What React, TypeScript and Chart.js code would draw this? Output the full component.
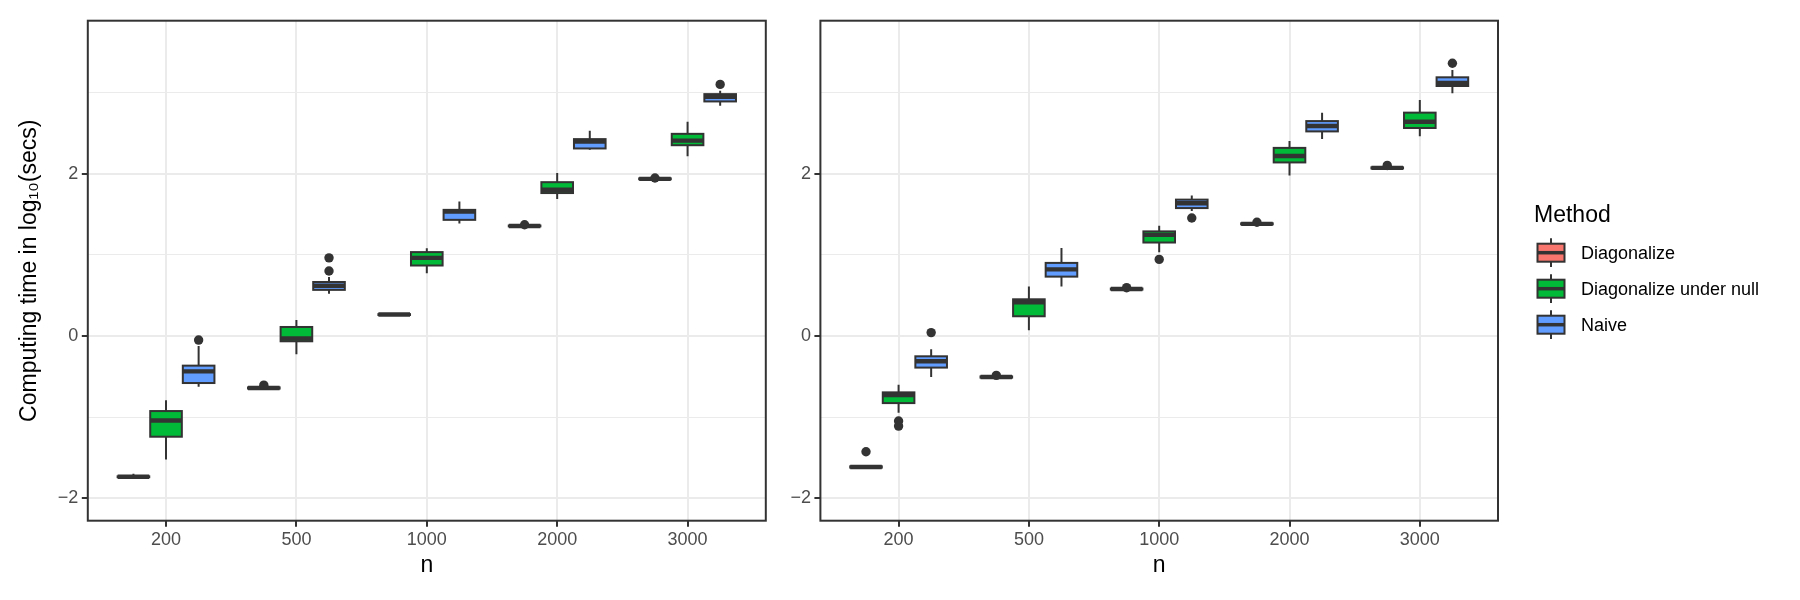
import React, { useEffect, useRef } from 'react';
import { Chart, registerables } from 'chart.js';

Chart.register(...registerables);

const categories = ['200', '500', '1000', '2000', '3000'];
const methods = ['Diagonalize', 'Diagonalize under null', 'Naive'];
const methodColors = ['#F8766D', '#00BA38', '#619CFF'];
const yTitle = 'Computing time in log₁₀(secs)';
const xTitle = 'n';
const legendTitle = 'Method';
const yMin = -2.274;
const yMax = 3.882;

// Each row: [lower whisker, Q1, median, Q3, upper whisker] in log10(secs), one row per n
const leftDiagonalize = [
  [-1.745, -1.738, -1.733, -1.728, -1.696],
  [-0.655, -0.647, -0.64, -0.633, -0.625],
  [0.252, 0.259, 0.264, 0.269, 0.276],
  [1.343, 1.35, 1.355, 1.36, 1.364],
  [1.923, 1.93, 1.935, 1.94, 1.943],
];
const leftDiagonalizeOutliers = [[], [-0.605], [], [1.37], [1.945]];

const leftNullDiag = [
  [-1.52, -1.24, -1.04, -0.924, -0.79],
  [-0.225, -0.065, -0.03, 0.111, 0.197],
  [0.774, 0.868, 0.962, 1.033, 1.08],
  [1.687, 1.76, 1.8, 1.894, 2.006],
  [2.214, 2.349, 2.405, 2.489, 2.637],
];
const leftNullDiagOutliers = [[], [], [], [], []];

const leftNaive = [
  [-0.624, -0.579, -0.435, -0.365, -0.123],
  [0.52, 0.568, 0.618, 0.665, 0.726],
  [1.385, 1.43, 1.532, 1.553, 1.656],
  [2.292, 2.309, 2.395, 2.424, 2.526],
  [2.834, 2.888, 2.945, 2.978, 3.019],
];
const leftNaiveOutliers = [[-0.05], [0.8, 0.962], [], [], [3.098]];

const rightDiagonalize = [
  [-1.63, -1.62, -1.612, -1.605, -1.595],
  [-0.52, -0.512, -0.505, -0.498, -0.49],
  [0.565, 0.572, 0.578, 0.584, 0.59],
  [1.368, 1.375, 1.381, 1.387, 1.394],
  [2.056, 2.063, 2.07, 2.076, 2.083],
];
const rightDiagonalizeOutliers = [[-1.425], [-0.485], [0.595], [1.4], [2.1]];

const rightNullDiag = [
  [-0.944, -0.826, -0.727, -0.694, -0.6],
  [0.07, 0.243, 0.415, 0.452, 0.61],
  [1.03, 1.151, 1.245, 1.288, 1.358],
  [1.976, 2.137, 2.217, 2.316, 2.4],
  [2.458, 2.561, 2.637, 2.75, 2.906],
];
const rightNullDiagOutliers = [[-1.047, -1.109], [], [0.943], [], []];

const rightNaive = [
  [-0.505, -0.389, -0.31, -0.25, -0.164],
  [0.608, 0.731, 0.82, 0.9, 1.085],
  [1.538, 1.575, 1.635, 1.679, 1.731],
  [2.425, 2.519, 2.585, 2.646, 2.75],
  [2.99, 3.078, 3.115, 3.185, 3.274],
];
const rightNaiveOutliers = [[0.042], [], [1.453], [], [3.358]];

const FONT = "'Liberation Sans', Arial, Helvetica, sans-serif";
const INK = '#333333';
const GRID = '#EBEBEB';
const TICK_TEXT = '#4D4D4D';

Chart.defaults.font.family = FONT;

type Row = number[];

// Whiskers, box outlines, medians, outliers and the panel frame drawn on top of the bar fills
function boxPlotPlugin(stats: Row[][], outliers: number[][][]) {
  return {
    id: 'boxPlotParts',
    afterDatasetsDraw(chart: any) {
      const ctx = chart.ctx as CanvasRenderingContext2D;
      const y = chart.scales.y;
      const area = chart.chartArea;
      ctx.save();
      ctx.beginPath();
      ctx.rect(area.left, area.top, area.right - area.left, area.bottom - area.top);
      ctx.clip();
      ctx.strokeStyle = INK;
      ctx.fillStyle = INK;
      ctx.lineCap = 'butt';
      stats.forEach((rows, k) => {
        const meta = chart.getDatasetMeta(k);
        rows.forEach((s, i) => {
          const el = meta.data[i];
          if (!el) return;
          const x = el.x;
          const half = el.width / 2;
          const [lo, q1, med, q3, hi] = s.map((v) => y.getPixelForValue(v));
          ctx.lineWidth = 2;
          ctx.beginPath();
          ctx.moveTo(x, hi);
          ctx.lineTo(x, q3);
          ctx.moveTo(x, q1);
          ctx.lineTo(x, lo);
          ctx.stroke();
          ctx.strokeRect(x - half, q3, half * 2, q1 - q3);
          ctx.lineWidth = 4.4;
          ctx.beginPath();
          ctx.moveTo(x - half, med);
          ctx.lineTo(x + half, med);
          ctx.stroke();
          (outliers[k][i] || []).forEach((v) => {
            ctx.beginPath();
            ctx.arc(x, y.getPixelForValue(v), 4.7, 0, Math.PI * 2);
            ctx.fill();
          });
        });
      });
      ctx.restore();
    },
    afterDraw(chart: any) {
      const ctx = chart.ctx as CanvasRenderingContext2D;
      const a = chart.chartArea;
      ctx.save();
      ctx.strokeStyle = INK;
      ctx.lineWidth = 2;
      ctx.strokeRect(a.left, a.top, a.right - a.left, a.bottom - a.top);
      ctx.restore();
    },
  };
}

// Legend with boxplot keys, placed to the right of the panel
const methodLegendPlugin = {
  id: 'methodLegend',
  afterDraw(chart: any) {
    const ctx = chart.ctx as CanvasRenderingContext2D;
    const base = chart.chartArea.right;
    ctx.save();
    ctx.fillStyle = '#000000';
    ctx.textAlign = 'left';
    ctx.textBaseline = 'alphabetic';
    ctx.font = `23px ${FONT}`;
    ctx.fillText(legendTitle, base + 36, 221.7);
    methods.forEach((m, k) => {
      const cx = base + 53;
      const cy = 252.7 + 36 * k;
      ctx.strokeStyle = INK;
      ctx.lineWidth = 2;
      ctx.beginPath();
      ctx.moveTo(cx, cy - 14.4);
      ctx.lineTo(cx, cy + 14.4);
      ctx.stroke();
      ctx.fillStyle = methodColors[k];
      ctx.fillRect(cx - 13.5, cy - 9, 27, 18);
      ctx.strokeRect(cx - 13.5, cy - 9, 27, 18);
      ctx.lineWidth = 3.5;
      ctx.beginPath();
      ctx.moveTo(cx - 13.5, cy);
      ctx.lineTo(cx + 13.5, cy);
      ctx.stroke();
      ctx.fillStyle = '#000000';
      ctx.font = `18px ${FONT}`;
      ctx.fillText(m, base + 83, cy + 6.6);
    });
    ctx.restore();
  },
};

interface PanelSpec {
  stats: Row[][];
  outliers: number[][][];
  yAxisWidth: number;
  rightPad: number;
  showYTitle: boolean;
  withLegend: boolean;
}

function makeConfig(p: PanelSpec): any {
  const isMajor = (v: number) => Math.abs(v % 2) < 1e-9;
  return {
    type: 'bar',
    data: {
      datasets: p.stats.map((rows, k) => ({
        label: methods[k],
        data: rows.map((s, i) => ({ x: i, y: [s[1], s[3]] })),
        backgroundColor: methodColors[k],
        borderWidth: 0,
        categoryPercentage: 0.75,
        barPercentage: 0.97,
      })),
    },
    options: {
      responsive: false,
      animation: false,
      events: [],
      layout: { padding: { left: 0, top: 20.7, right: p.rightPad, bottom: 0 } },
      plugins: { legend: { display: false }, tooltip: { enabled: false } },
      scales: {
        x: {
          type: 'linear',
          min: -0.6,
          max: 4.6,
          offset: false,
          border: { display: false },
          grid: { offset: false, color: GRID, lineWidth: 2, tickColor: INK, tickWidth: 2, tickLength: 6 },
          ticks: {
            stepSize: 1,
            includeBounds: false,
            autoSkip: false,
            maxRotation: 0,
            padding: 3,
            color: TICK_TEXT,
            font: { size: 18 },
            callback: (v: number) => categories[v] ?? '',
          },
          title: {
            display: true,
            text: xTitle,
            color: '#000000',
            font: { size: 23 },
            padding: { top: 0, bottom: 21 },
          },
          afterFit: (s: any) => {
            s.height = 79.3;
          },
        },
        y: {
          type: 'linear',
          min: yMin,
          max: yMax,
          border: { display: false },
          grid: {
            color: GRID,
            lineWidth: (c: any) => (c.tick && isMajor(c.tick.value) ? 2 : 1),
            tickColor: (c: any) => (c.tick && isMajor(c.tick.value) ? INK : 'rgba(0,0,0,0)'),
            tickWidth: 2,
            tickLength: 6,
          },
          ticks: {
            stepSize: 1,
            includeBounds: false,
            autoSkip: false,
            padding: 3.5,
            color: TICK_TEXT,
            font: { size: 18 },
            callback: (v: number) => (isMajor(v) ? String(v).replace('-', '\u2212') : ''),
          },
          title: {
            display: p.showYTitle,
            text: yTitle,
            color: '#000000',
            font: { size: 23 },
            padding: { top: 16, bottom: 0 },
          },
          afterFit: (s: any) => {
            s.width = p.yAxisWidth;
          },
        },
      },
    },
    plugins: p.withLegend
      ? [boxPlotPlugin(p.stats, p.outliers), methodLegendPlugin]
      : [boxPlotPlugin(p.stats, p.outliers)],
  };
}

function Panel(props: { spec: PanelSpec; left: number; width: number }) {
  const ref = useRef<HTMLCanvasElement | null>(null);
  useEffect(() => {
    if (!ref.current) return;
    const chart = new Chart(ref.current, makeConfig(props.spec));
    return () => chart.destroy();
  }, []);
  return (
    <canvas
      ref={ref}
      width={props.width}
      height={600}
      style={{ position: 'absolute', left: props.left, top: 0, width: props.width, height: 600 }}
    />
  );
}

const leftSpec: PanelSpec = {
  stats: [leftDiagonalize, leftNullDiag, leftNaive],
  outliers: [leftDiagonalizeOutliers, leftNullDiagOutliers, leftNaiveOutliers],
  yAxisWidth: 87.8,
  rightPad: 14.2,
  showYTitle: true,
  withLegend: false,
};

const rightSpec: PanelSpec = {
  stats: [rightDiagonalize, rightNullDiag, rightNaive],
  outliers: [rightDiagonalizeOutliers, rightNullDiagOutliers, rightNaiveOutliers],
  yAxisWidth: 40.4,
  rightPad: 302,
  showYTitle: false,
  withLegend: true,
};

export default function App() {
  return (
    <div
      style={{
        position: 'fixed',
        left: 0,
        top: 0,
        width: 1800,
        height: 600,
        background: '#ffffff',
        overflow: 'hidden',
      }}
    >
      <Panel spec={leftSpec} left={0} width={780} />
      <Panel spec={rightSpec} left={780} width={1020} />
    </div>
  );
}
